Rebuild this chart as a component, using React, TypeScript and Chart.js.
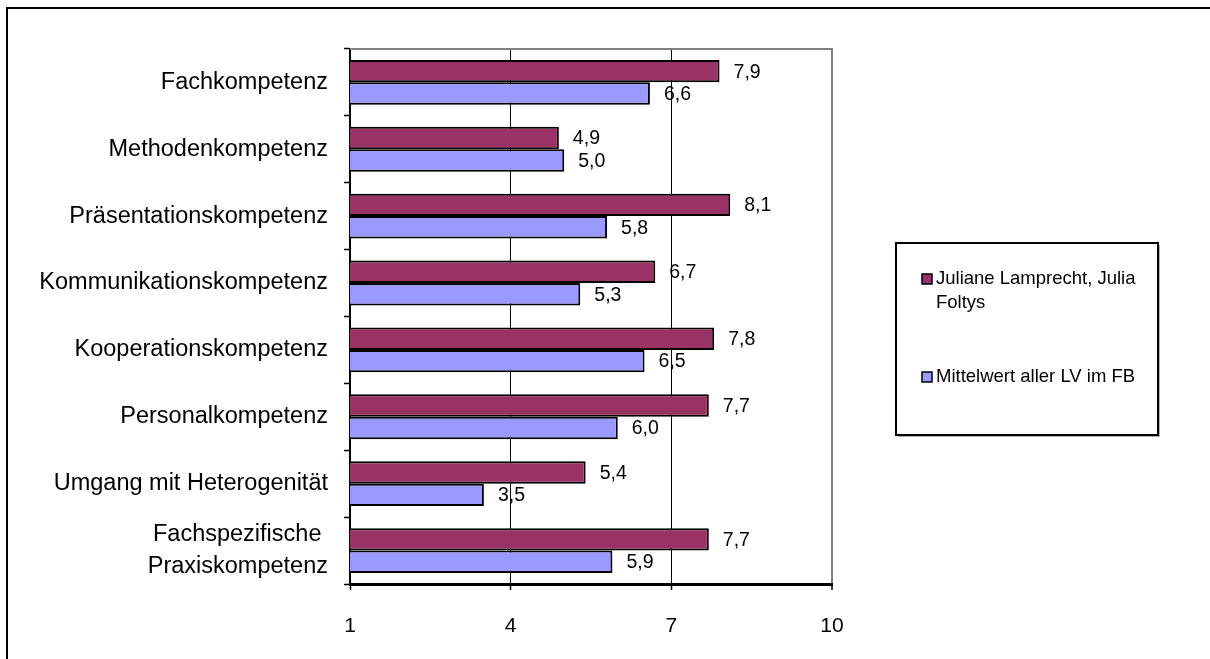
import React, { useEffect, useRef } from "react";
import { Chart, registerables } from "chart.js";

Chart.register(...registerables);

const categories: (string | string[])[] = [
  "Fachkompetenz",
  "Methodenkompetenz",
  "Präsentationskompetenz",
  "Kommunikationskompetenz",
  "Kooperationskompetenz",
  "Personalkompetenz",
  "Umgang mit Heterogenität",
  ["Fachspezifische ", "Praxiskompetenz"],
];
const seriesNames = ["Juliane Lamprecht, Julia Foltys", "Mittelwert aller LV im FB"];
const seriesA = [7.9, 4.9, 8.1, 6.7, 7.8, 7.7, 5.4, 7.7];
const seriesB = [6.6, 5.0, 5.8, 5.3, 6.5, 6.0, 3.5, 5.9];
const colorA = "#993366";
const colorB = "#9999FF";
const xMin = 1;
const xMax = 10;
const xStep = 3;

const FONT = "'Liberation Sans', Arial, sans-serif";

const decor = {
  id: "decor",
  beforeDraw(chart: any) {
    const ctx = chart.ctx;
    ctx.save();
    ctx.fillStyle = "#fff";
    ctx.fillRect(0, 0, chart.width, chart.height);
    ctx.strokeStyle = "#000";
    ctx.lineWidth = 2;
    ctx.beginPath();
    ctx.moveTo(7, chart.height + 5);
    ctx.lineTo(7, 8);
    ctx.lineTo(chart.width + 5, 8);
    ctx.stroke();
    ctx.restore();
  },
  afterDraw(chart: any) {
    const ctx = chart.ctx;
    const a = chart.chartArea;
    ctx.save();
    ctx.strokeStyle = "#808080";
    ctx.lineWidth = 2;
    ctx.beginPath();
    ctx.moveTo(a.left, a.top);
    ctx.lineTo(a.right + 1, a.top);
    ctx.stroke();
    const lx = 896, ly = 243, lw = 262, lh = 192;
    ctx.fillStyle = "#b0b0b0";
    ctx.fillRect(lx + 2, ly + 2, lw, lh);
    ctx.fillStyle = "#fff";
    ctx.fillRect(lx, ly, lw, lh);
    ctx.strokeStyle = "#000";
    ctx.lineWidth = 2;
    ctx.strokeRect(lx, ly, lw, lh);
    ctx.font = `18.5px ${FONT}`;
    ctx.textBaseline = "middle";
    ctx.textAlign = "left";
    const items = [
      { name: seriesNames[0], color: colorA, y: 279 },
      { name: seriesNames[1], color: colorB, y: 377 },
    ];
    items.forEach((it) => {
      ctx.fillStyle = it.color;
      ctx.fillRect(922, it.y - 5, 10, 10);
      ctx.strokeStyle = "#000";
      ctx.lineWidth = 1.5;
      ctx.strokeRect(922, it.y - 5, 10, 10);
      const words = it.name.split(" ");
      const lines: string[] = [];
      let cur = "";
      words.forEach((w) => {
        const t = cur ? cur + " " + w : w;
        if (ctx.measureText(t).width > 205 && cur) {
          lines.push(cur);
          cur = w;
        } else cur = t;
      });
      if (cur) lines.push(cur);
      ctx.fillStyle = "#000";
      lines.forEach((l, i) => ctx.fillText(l, 936, it.y + i * 24));
    });
    ctx.restore();
  },
  afterDatasetsDraw(chart: any) {
    const ctx = chart.ctx;
    ctx.save();
    ctx.font = `19.5px ${FONT}`;
    ctx.fillStyle = "#000";
    ctx.textBaseline = "middle";
    ctx.textAlign = "left";
    chart.data.datasets.forEach((ds: any, di: number) => {
      const meta = chart.getDatasetMeta(di);
      meta.data.forEach((el: any, i: number) => {
        const v = ds.data[i] as number;
        ctx.fillText(v.toFixed(1).replace(".", ","), el.x + 14, el.y + 1);
      });
    });
    ctx.restore();
  },
};

export default function App() {
  const ref = useRef<HTMLCanvasElement>(null);
  useEffect(() => {
    if (!ref.current) return;
    const chart = new Chart(ref.current, {
      type: "bar",
      data: {
        labels: categories,
        datasets: [
          {
            label: seriesNames[0],
            data: seriesA,
            backgroundColor: colorA,
            borderColor: "#000",
            borderWidth: 2,
            categoryPercentage: 0.67,
            barPercentage: 1,
          },
          {
            label: seriesNames[1],
            data: seriesB,
            backgroundColor: colorB,
            borderColor: "#000",
            borderWidth: 2,
            categoryPercentage: 0.67,
            barPercentage: 1,
          },
        ],
      },
      options: {
        indexAxis: "y",
        responsive: false,
        animation: false,
        layout: { padding: { top: 44, right: 378, bottom: 0, left: 0 } },
        plugins: {
          legend: { display: false },
          tooltip: { enabled: false },
        },
        scales: {
          x: {
            min: xMin,
            max: xMax,
            afterFit: (s: any) => {
              s.height = 75;
            },
            ticks: {
              stepSize: xStep,
              color: "#000",
              padding: 24,
              font: { family: FONT, size: 21 },
            },
            grid: {
              color: (c: any) => (c.tick && c.tick.value === xMax ? "#808080" : "#000"),
              lineWidth: (c: any) => (c.tick && c.tick.value === xMax ? 2 : 1),
              tickColor: "#000",
              tickLength: 6,
              tickWidth: 1.5,
            },
            border: { color: "#000", width: 3 },
          },
          y: {
            afterFit: (s: any) => {
              s.width = 350;
            },
            ticks: {
              autoSkip: false,
              color: "#000",
              padding: 16,
              font: { family: FONT, size: 23.5, lineHeight: 1.4 },
            },
            grid: {
              offset: true,
              drawOnChartArea: false,
              drawTicks: true,
              tickLength: 6,
              tickColor: "#000",
              tickWidth: 1.5,
              color: "#000",
            },
            border: { color: "#000", width: 2 },
          },
        },
      },
      plugins: [decor],
    } as any);
    return () => chart.destroy();
  }, []);
  return (
    <div style={{ position: "absolute", left: 0, top: 0, width: 1210, height: 659 }}>
      <canvas ref={ref} width={1210} height={659} style={{ display: "block" }} />
    </div>
  );
}
